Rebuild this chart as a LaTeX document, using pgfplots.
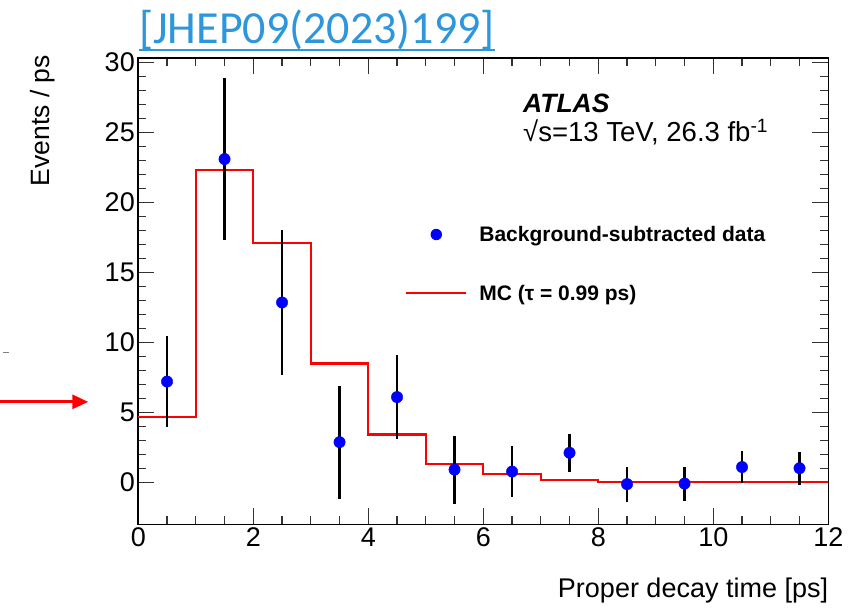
\documentclass[border=0pt]{standalone}
\usepackage{fontspec}
\setmainfont{Liberation Sans}
\newfontfamily\carlito{Carlito}
\usepackage{pgfplots}
\usepackage{pgfplotstable}
\pgfplotsset{compat=1.18}
\usetikzlibrary{arrows.meta}
\definecolor{linkblue}{RGB}{46,150,218}

\pgfplotstableread{
x     y      e
0.5   7.20   3.28
1.5   23.10  5.80
2.5   12.85  5.20
3.5   2.87   4.03
4.5   6.09   3.01
5.5   0.91   2.43
6.5   0.77   1.85
7.5   2.11   1.37
8.5   -0.13  1.26
9.5   -0.09  1.21
10.5  1.09   1.15
11.5  1.01   1.18
}\datatab

\pgfplotstableread{
x   y
0   4.66
1   22.33
2   17.11
3   8.49
4   3.42
5   1.32
6   0.61
7   0.18
8   0.04
9   0.01
10  0.00
11  0.00
12  0.00
}\mctab

\newcommand{\ulink}[1]{\setbox0\hbox{#1}\leavevmode\rlap{\usebox0}\rule[-7.5bp]{\wd0}{1.8bp}}

\begin{document}
\begin{tikzpicture}
\path[use as bounding box] (-138.3bp,-84.5bp) rectangle (722.7bp,524.3bp);
\begin{axis}[
  at={(0,0)}, anchor=south west,
  scale only axis, width=690bp, height=466bp,
  xmin=0, xmax=12, ymin=-3, ymax=30.3,
  clip=false,
  xtick={0,2,...,12}, minor x tick num=3,
  ytick={0,5,...,30}, minor y tick num=4,
  tick align=inside,
  major tick length=16bp, minor tick length=8bp,
  tick style={line width=1.2bp, black!80},
  axis line style={line width=1.6bp, black},
  /pgf/number format/assume math mode=true,
  ticklabel style={font=\fontsize{27bp}{30bp}\selectfont},
  xlabel={Proper decay time [ps]},
  ylabel={Events / ps},
  xlabel style={at={(axis description cs:1,-0.1577)}, anchor=base east, inner sep=0pt, font=\fontsize{27bp}{30bp}\selectfont},
  ylabel style={at={(axis description cs:-0.1294,1.007)}, anchor=base east, inner sep=0pt, font=\fontsize{26.5bp}{30bp}\selectfont},
  reverse legend,
  legend cell align=left,
  legend style={at={(axis cs:4.638,15.61)}, anchor=west, draw=none, fill=none,
    inner sep=0pt, row sep=42bp,
    nodes={inner sep=0pt},
    font=\bfseries\fontsize{21bp}{24bp}\selectfont},
]
\addplot[const plot mark left, red, line width=2.2bp,
  legend image code/.code={\draw[red, line width=2.2bp] (0bp,0bp) -- (60bp,0bp);}]
  table[x=x, y=y] \mctab;
\addlegendentry{\hspace*{12bp}MC (τ = 0.99 ps)}

\addplot[only marks, mark=*, mark size=5.7bp, color=blue, mark options={draw=blue, fill=blue},
  legend image code/.code={\path[draw=none, fill=none] (0bp,-5bp) rectangle (60bp,5bp);
     \fill[blue, draw=none] (30bp,0bp) circle[radius=5.7bp];},
  error bars/.cd, y dir=both, y explicit, error mark=none,
  error bar style={line width=2.6bp, black}]
  table[x=x, y=y, y error=e] \datatab;
\addlegendentry{\hspace*{12bp}Background-subtracted data}

\node[anchor=base west, inner sep=0pt, font=\bfseries\itshape\fontsize{26.5bp}{29bp}\selectfont] at (axis cs:6.69,26.4) {ATLAS};
\node[anchor=base west, inner sep=0pt, font=\fontsize{27.5bp}{30bp}\selectfont] at (axis cs:6.69,24.35) {√s=13 TeV, 26.3 fb\textsuperscript{-1}};

\node[anchor=base west, inner sep=0pt, text=linkblue, font=\carlito\fontsize{46bp}{50bp}\selectfont] at (axis description cs:0.001,1.0328) {\ulink{[JHEP09(2023)199]}};

\draw[red, line width=3bp, -{Triangle[length=16bp,width=14bp]}] (axis cs:-2.41,5.75) -- (axis cs:-0.87,5.75);
\draw[gray, line width=1bp] (axis cs:-2.35,9.25) -- (axis cs:-2.24,9.25);
\end{axis}
\end{tikzpicture}
\end{document}
